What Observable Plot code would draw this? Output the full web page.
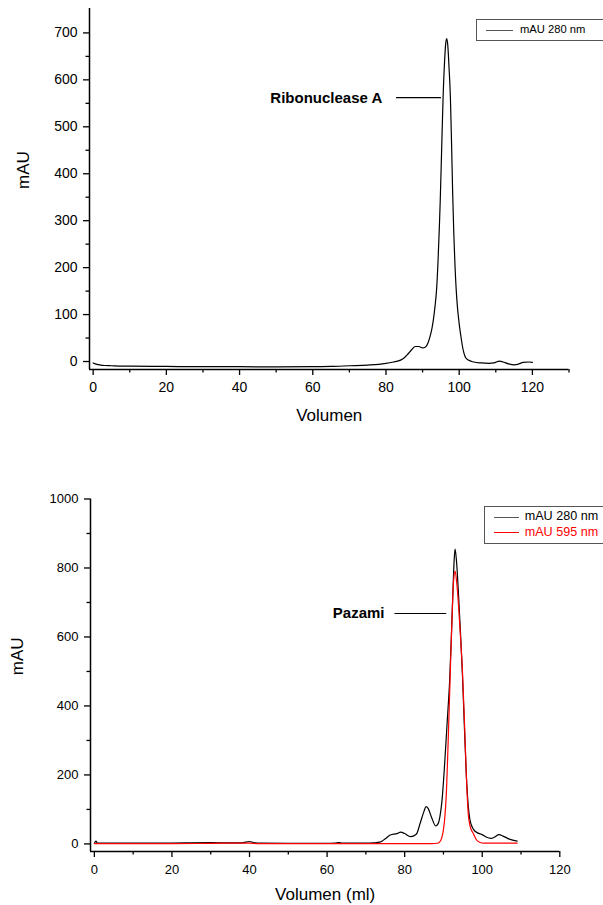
<!DOCTYPE html>
<html><head><meta charset="utf-8">
<script src="https://cdn.jsdelivr.net/npm/d3@7"></script>
<script src="https://cdn.jsdelivr.net/npm/@observablehq/plot@0.6"></script>
<style>
html,body{margin:0;padding:0;background:#fff;}
#wrap{position:relative;width:603px;height:905px;overflow:hidden;font-family:"Liberation Sans",Arial,sans-serif;}
#wrap svg{position:absolute;left:0;}
.legend{position:absolute;border:1px solid #555;background:#fff;box-sizing:border-box;width:140px;}
.legend .sw{position:absolute;height:0;border-top:1.4px solid #555;}
.legend .lt{position:absolute;line-height:1;white-space:nowrap;}
</style></head>
<body><div id="wrap"></div>
<script>
// ---------- Chart 1: Ribonuclease A ----------
const ribVolumen = [0,1,2,3,5,10,20,30,40,50,60,65,70,75,78,80,82,84,85,86,87,88,89,90,90.8,91.5,92.1,92.6,93.0,93.4,93.8,94.2,94.6,94.85,95.2,95.6,96.0,96.3,96.6,96.9,97.2,97.6,97.9,98.2,98.5,98.8,99.2,99.5,99.8,100.2,100.5,100.9,101.3,101.7,102.5,104,106,108,109.5,111,112,113.5,115,116,117.5,119,120];
const ribMAU280 = [-3,-6,-7.5,-8.5,-9,-10,-10.5,-11,-11,-11.5,-11,-10.5,-9,-7.5,-6,-4,-1,3,8,16,25,32,32,29,31,40,55,72,92,118,151,210,290,350,450,562,638,676,688,672,630,562,470,365,280,215,151,118,94,68,52,32,18,9,3,-1,-3,-4,-3,1,-1,-5,-7,-6,-2,-1,-2];
const ribXMajor = [0,20,40,60,80,100,120];
const ribXMinor = [10,30,50,70,90,110,130];
const ribYMajor = [0,100,200,300,400,500,600,700];
const ribYMinor = [50,150,250,350,450,550,650];
const ribXTitle = ["Volumen"];
const ribLabel = ["Ribonuclease A"];
const ribLabelX = [79];
const ribLabelY = [562];
const ribLeaderX = [82.9, 94.9];

// ---------- Chart 2: Pazami ----------
const paz280Volumen = [0,0.4,0.8,5,10,20,25,30,35,38,40,41,43,50,55,60,62,63,64,70,72,73.6,75,76.3,78,79,80,81.5,83,84,85,85.5,86,87,88,88.6,89.1,89.7,90.3,91.0,91.6,92.1,92.5,92.8,93.0,93.4,93.9,94.4,94.9,95.4,95.9,96.4,96.8,97.2,97.7,98.8,100,101,102.3,103.2,104.3,105.5,107,109];
const paz280MAU = [2,8,2,2,2,2.5,3,3.5,3,3,7,4,2,1.5,1.5,1.5,2,4,2,2,3,5,15,26,30,34,30,21,28,60,95,108,104,75,52,58,80,135,230,360,474,620,750,830,855,815,720,610,490,340,200,110,72,55,43,32,27,20,16,20,27,22,14,8];
const paz595Volumen = [0,20,30,40,42,60,87,88.5,89.3,89.9,90.3,90.7,91.2,91.7,92.2,92.6,93.0,93.4,93.9,94.4,94.9,95.4,95.9,96.4,96.9,97.7,98.5,99.3,100.5,109];
const paz595MAU = [1,1,1.5,2.5,1,1,1,2,10,34,70,135,290,474,650,760,791,760,690,600,500,360,200,87,50,30,12,5,2,2];
const pazXMajor = [0,20,40,60,80,100,120];
const pazXMinor = [10,30,50,70,90,110];
const pazYMajor = [0,200,400,600,800,1000];
const pazYMinor = [100,300,500,700,900];
const pazXTitle = ["Volumen (ml)"];
const pazLabel = ["Pazami"];
const pazLabelX = [74.8];
const pazLabelY = [668];
const pazLeaderX = [77.5, 90.6];

const yTitle = ["mAU"];
const seriesNames = ["mAU 280 nm", "mAU 595 nm"];
const seriesColors = ["#000000", "#ff0000"];
const legendSwatch = ["#555555", "#ff0000"];

const FONT = '"Liberation Sans", Arial, sans-serif';
const wrap = document.getElementById("wrap");
const fmt = d3.format("d");

function chart({w, h, ml, mr, mt, mb, xDom, yDom, xMaj, xMin, yMaj, yMin, xTitle, xTitleDy, yTitleDx, fs, series, label, labelX, labelY, leaderX}) {
  const tick = 1.3;
  const marks = [
    Plot.axisX({ticks: xMaj, tickSize: 6, tickPadding: 7, strokeWidth: tick, fontSize: fs, tickFormat: fmt, label: null}),
    Plot.axisX({ticks: xMin, tickSize: 3.5, strokeWidth: tick, tickFormat: () => "", label: null}),
    Plot.axisY({ticks: yMaj, tickSize: 6, tickPadding: 6, strokeWidth: tick, fontSize: fs, tickFormat: fmt, label: null}),
    Plot.axisY({ticks: yMin, tickSize: 3.5, strokeWidth: tick, tickFormat: () => "", label: null}),
    Plot.ruleY([yDom[0]], {strokeWidth: 1.5}),
    Plot.ruleX([xDom[0]], {strokeWidth: 1.5}),
    Plot.text(xTitle, {text: d => d, frameAnchor: "bottom", dy: xTitleDy, fontSize: 17, lineAnchor: "middle", fill: "#000"}),
    Plot.text(yTitle, {text: d => d, frameAnchor: "left", dx: yTitleDx, rotate: -90, fontSize: 17, lineAnchor: "middle", fill: "#000"}),
  ];
  for (const s of series) {
    marks.push(Plot.line(s.x.map((x, i) => ({x, y: s.y[i]})), {x: "x", y: "y", curve: "monotone-x", stroke: s.color, strokeWidth: 1.2}));
  }
  marks.push(Plot.text(label.map((t, i) => ({t, x: labelX[i], y: labelY[i]})), {x: "x", y: "y", text: "t", textAnchor: "end", fontWeight: "bold", fontSize: 15, fill: "#000"}));
  marks.push(Plot.line(leaderX.map(x => ({x, y: labelY[0]})), {x: "x", y: "y", stroke: "#000", strokeWidth: 1.2}));
  return Plot.plot({
    width: w, height: h, marginLeft: ml, marginRight: mr, marginTop: mt, marginBottom: mb,
    style: {fontFamily: FONT, fontSize: fs + "px", color: "#000", background: "transparent", overflow: "visible"},
    x: {domain: xDom}, y: {domain: yDom},
    marks
  });
}

const top1 = chart({w: 603, h: 440, ml: 89, mr: 34.5, mt: 8, mb: 71, xDom: [-1, 130], yDom: [-17, 752],
  xMaj: ribXMajor, xMin: ribXMinor, yMaj: ribYMajor, yMin: ribYMinor, xTitle: ribXTitle, xTitleDy: 46, yTitleDx: -66, fs: 14,
  series: [{x: ribVolumen, y: ribMAU280, color: seriesColors[0]}], label: ribLabel, labelX: ribLabelX, labelY: ribLabelY, leaderX: ribLeaderX});
top1.style.top = "0px";
wrap.appendChild(top1);

const bot = chart({w: 603, h: 465, ml: 90, mr: 43.7, mt: 58.5, mb: 54, xDom: [-1, 120], yDom: [-22, 1000],
  xMaj: pazXMajor, xMin: pazXMinor, yMaj: pazYMajor, yMin: pazYMinor, xTitle: pazXTitle, xTitleDy: 43, yTitleDx: -73, fs: 13,
  series: [{x: paz280Volumen, y: paz280MAU, color: seriesColors[0]}, {x: paz595Volumen, y: paz595MAU, color: seriesColors[1]}],
  label: pazLabel, labelX: pazLabelX, labelY: pazLabelY, leaderX: pazLeaderX});
bot.style.top = "440px";
wrap.appendChild(bot);

function legend(left, top, height, rows, fs) {
  const d = document.createElement("div");
  d.className = "legend";
  d.style.left = left + "px"; d.style.top = top + "px"; d.style.height = height + "px";
  rows.forEach(r => {
    const sw = document.createElement("div");
    sw.className = "sw";
    sw.style.left = r.sx + "px"; sw.style.width = r.sw + "px"; sw.style.top = r.y + "px";
    sw.style.borderTopColor = r.swColor;
    d.appendChild(sw);
    const t = document.createElement("div");
    t.className = "lt";
    t.textContent = r.text;
    t.style.left = r.tx + "px"; t.style.top = (r.y - fs * 0.55) + "px";
    t.style.fontSize = fs + "px"; t.style.color = r.textColor;
    d.appendChild(t);
  });
  wrap.appendChild(d);
}
legend(476, 19, 22, [{text: seriesNames[0], swColor: legendSwatch[0], textColor: "#000", sx: 9, sw: 27, tx: 43, y: 10}], 11.2);
legend(483.7, 505.7, 38, [
  {text: seriesNames[0], swColor: legendSwatch[0], textColor: "#000", sx: 9, sw: 25, tx: 40, y: 10.5},
  {text: seriesNames[1], swColor: legendSwatch[1], textColor: seriesColors[1], sx: 9, sw: 25, tx: 40, y: 25.8}
], 12.6);
</script>
</body></html>
